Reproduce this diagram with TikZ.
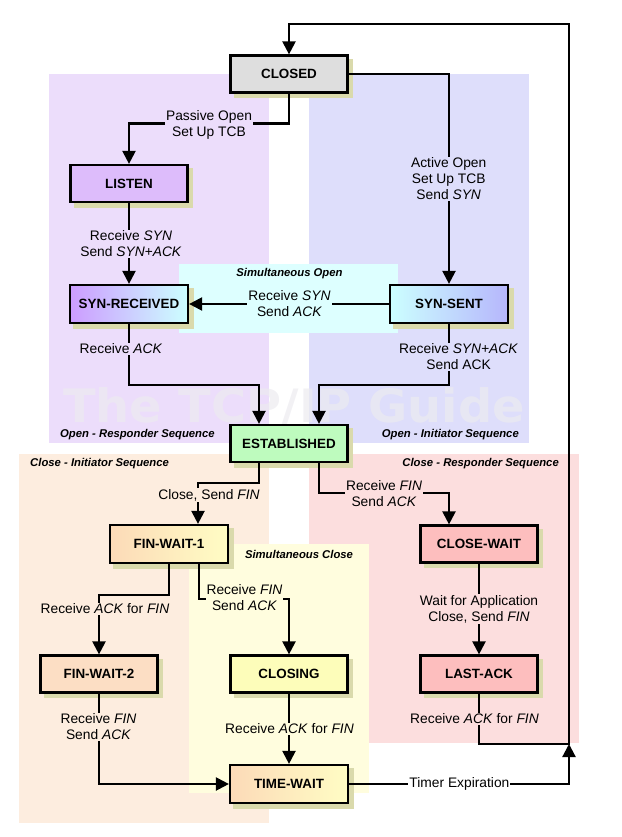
\documentclass[tikz,border=0pt]{standalone}
\usepackage{fontspec}
\setmainfont{Liberation Sans}
\newfontfamily\wmfont{DejaVu Sans}
\usetikzlibrary{arrows.meta}
\pgfdeclarelayer{back}
\pgfdeclarelayer{shad}
\pgfsetlayers{back,shad,main}
\definecolor{purpbg}{RGB}{236,221,251}
\definecolor{bluebg}{RGB}{222,222,251}
\definecolor{cyanbg}{RGB}{221,255,255}
\definecolor{orangebg}{RGB}{253,237,223}
\definecolor{pinkbg}{RGB}{252,222,222}
\definecolor{yellowbg}{RGB}{255,253,222}
\definecolor{shadowc}{RGB}{218,218,172}
\definecolor{closedc}{RGB}{222,222,222}
\definecolor{listenc}{RGB}{221,188,251}
\definecolor{violetc}{RGB}{204,156,255}
\definecolor{lcyanc}{RGB}{204,255,255}
\definecolor{lbluec}{RGB}{182,182,252}
\definecolor{estc}{RGB}{190,251,190}
\definecolor{peachc}{RGB}{252,218,184}
\definecolor{lyellowc}{RGB}{255,253,196}
\definecolor{fw2c}{RGB}{252,222,196}
\definecolor{closingc}{RGB}{253,253,186}
\definecolor{redc}{RGB}{253,190,190}
\definecolor{wmc}{RGB}{236,235,240}
\begin{document}
\begin{tikzpicture}[x=1pt,y=-1pt,
  state/.style={draw, line width=2.2pt, minimum width=117pt, minimum height=37pt,
    inner sep=0pt, font=\fontsize{13.4}{15}\selectfont\bfseries},
  arr/.style={line width=2.2pt, -{Triangle[width=13pt,length=13pt]}},
  lbl/.style={font=\fontsize{13.8}{16}\selectfont, align=center, inner sep=1pt},
  reg/.style={font=\fontsize{11.3}{13}\selectfont\bfseries\itshape, inner sep=0pt}]
\useasboundingbox (0,0) rectangle (621,837);

% region backgrounds
\begin{pgfonlayer}{back}
\fill[purpbg] (49,74) rectangle (269,443);
\fill[bluebg] (309,74) rectangle (529,443);
\fill[cyanbg] (179,264) rectangle (398,333);
\fill[orangebg] (19,454) rectangle (269,823);
\fill[pinkbg] (309,454) rectangle (579,743);
\fill[yellowbg] (189,544) rectangle (369,793);
\node[font=\wmfont\fontsize{46}{47}\selectfont\bfseries, text=wmc, text opacity=0.7,
  inner sep=0pt, anchor=base, text depth=0pt, xscale=1.04] (wm) at (294,422) {The TCP/IP Guide};
\end{pgfonlayer}

% states
\node[state, fill=closedc] (closed) at (289,74) {CLOSED};
\node[state, fill=listenc] (listen) at (129,183.5) {LISTEN};
\node[state, left color=violetc, right color=lcyanc, minimum width=118pt, minimum height=38pt] (synrcvd) at (129,304) {SYN-RECEIVED};
\node[state, left color=lcyanc, right color=lbluec, minimum width=118pt, minimum height=38pt] (synsent) at (449,304) {SYN-SENT};
\node[state, fill=estc] (est) at (289,443.5) {ESTABLISHED};
\node[state, left color=peachc, right color=lyellowc, minimum width=118pt, minimum height=38pt] (fw1) at (169,544) {FIN-WAIT-1};
\node[state, fill=redc] (closewait) at (479,544) {CLOSE-WAIT};
\node[state, fill=fw2c] (fw2) at (99,674) {FIN-WAIT-2};
\node[state, fill=closingc] (closing) at (289,674) {CLOSING};
\node[state, fill=redc] (lastack) at (479,674) {LAST-ACK};
\node[state, left color=peachc, right color=lyellowc, minimum width=118pt, minimum height=38pt] (timewait) at (289,784) {TIME-WAIT};

% shadows
\begin{pgfonlayer}{shad}
\foreach \n in {closed,listen,synrcvd,synsent,est,fw1,closewait,fw2,closing,lastack,timewait}
  \fill[shadowc] ([shift={(4.5,4.5)}]\n.south west) rectangle ([shift={(4.5,4.5)}]\n.north east);
\end{pgfonlayer}

% coordinates for loop
\coordinate (join) at (569,744);
\coordinate (topright) at (569,24);

% connectors
\draw[arr] (lastack.south) |- (join) -- (topright) -| (closed.north);
\draw[arr] (timewait.east) -| (join);
\draw[arr] (closed.south) -- ++(0,30) -| (listen.north);
\draw[arr] (closed.east) -| (synsent.north);
\draw[arr] (listen.south) -- (synrcvd.north);
\draw[arr] (synsent.west) -- (synrcvd.east);
\draw[arr] (synrcvd.south) -- ++(0,60.5) -| ([xshift=-30pt]est.north);
\draw[arr] (synsent.south) -- ++(0,60.5) -| ([xshift=30pt]est.north);
\draw[arr] ([xshift=-30pt]est.south) -- ++(0,20) -| ([xshift=29pt]fw1.north);
\draw[arr] ([xshift=30pt]est.south) -- ++(0,30) -| ([xshift=-30pt]closewait.north);
\draw[arr] (fw1.south) -- ++(0,30.5) -| (fw2.north);
\draw[arr] ([xshift=30pt]fw1.south) -- ++(0,34.5) -| (closing.north);
\draw[arr] (closewait.south) -- (lastack.north);
\draw[arr] (fw2.south) |- (timewait.west);
\draw[arr] (closing.south) -- (timewait.north);

% connector labels
\node[lbl, fill=purpbg] (l1) at (209,124.5) {Passive Open\\Set Up TCB};
\node[lbl, fill=bluebg] (l2) at (448.7,179) {Active Open\\Set Up TCB\\Send \textit{SYN}};
\node[lbl, fill=purpbg] (l3) at (131,244) {Receive \textit{SYN}\\Send \textit{SYN+ACK}};
\node[lbl, fill=cyanbg] (l4) at (289.5,304) {Receive \textit{SYN}\\Send \textit{ACK}};
\node[lbl, fill=purpbg] (l5) at (121,349) {Receive \textit{ACK}};
\node[lbl, fill=bluebg] (l6) at (458.6,357) {Receive \textit{SYN+ACK}\\Send ACK};
\node[lbl, fill=orangebg] (l7) at (209,495) {Close, Send \textit{FIN}};
\node[lbl, fill=pinkbg] (l8) at (384,494) {Receive \textit{FIN}\\Send \textit{ACK}};
\node[lbl, fill=orangebg] (l9) at (105,609) {Receive \textit{ACK} for \textit{FIN}};
\node[lbl, fill=yellowbg] (l10) at (244.5,598) {Receive \textit{FIN}\\Send \textit{ACK}};
\node[lbl, fill=pinkbg] (l11) at (479,609) {Wait for Application\\Close, Send \textit{FIN}};
\node[lbl, fill=orangebg] (l12) at (98.5,727) {Receive \textit{FIN}\\Send \textit{ACK}};
\node[lbl, fill=yellowbg] (l13) at (289.5,729) {Receive \textit{ACK} for \textit{FIN}};
\node[lbl, fill=pinkbg] (l14) at (474.5,719) {Receive \textit{ACK} for \textit{FIN}};
\node[lbl, fill=white] (l15) at (459.4,784) {Timer Expiration};

% region labels
\node[reg] (r1) at (289.5,274) {Simultaneous Open};
\node[reg, anchor=west] (r2) at (60,435) {Open - Responder Sequence};
\node[reg, anchor=east] (r3) at (519,435) {Open - Initiator Sequence};
\node[reg, anchor=west] (r4) at (30,464) {Close - Initiator Sequence};
\node[reg, anchor=east] (r5) at (559,464) {Close - Responder Sequence};
\node[reg] (r6) at (299,554) {Simultaneous Close};
\end{tikzpicture}
\end{document}
